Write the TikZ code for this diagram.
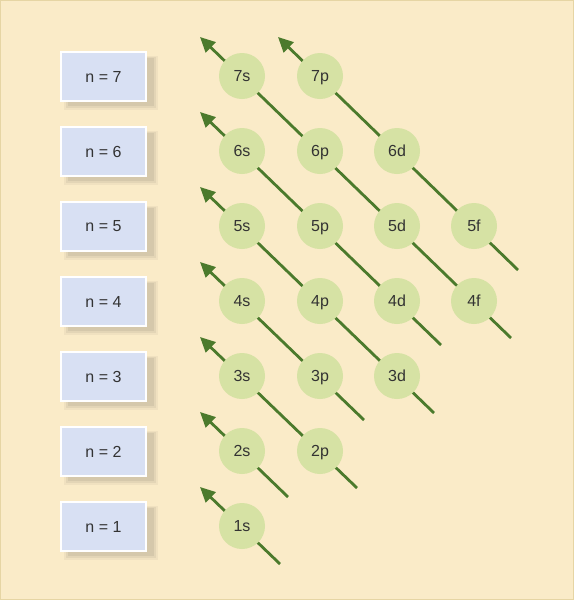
\documentclass[tikz,border=0pt]{standalone}
\usepackage{fontspec}
\setmainfont{Liberation Sans}
\usetikzlibrary{arrows.meta,calc,backgrounds}
\definecolor{bgc}{HTML}{FAEBC8}
\definecolor{bgborder}{HTML}{E6D5A4}
\definecolor{boxfill}{HTML}{D8E0F3}
\definecolor{circfill}{HTML}{D6E2A4}
\definecolor{linec}{HTML}{4B7A2C}
\definecolor{txt}{HTML}{333333}
\tikzset{
  nbox/.style={draw=white, line width=1.2pt, fill=boxfill, minimum width=85pt, minimum height=49pt, inner sep=0pt, font=\fontsize{16}{16}\selectfont, text=txt},
  orb/.style={circle, fill=circfill, minimum size=46pt, inner sep=0pt, text height=11.5pt, text depth=0pt, font=\fontsize{16}{16}\selectfont, text=txt},
  diag/.style={draw=linec, line width=2.8pt, -{Triangle[length=15pt,width=14pt]}},
}
\begin{document}
\begin{tikzpicture}[x=1pt,y=-1pt]
\begin{scope}[on background layer]
\fill[bgc] (0,0) rectangle (574,600);
\draw[bgborder, line width=1pt] (0.5,0.5) rectangle (573.5,599.5);
\end{scope}
\useasboundingbox (0,0) rectangle (574,600);
% shells
\foreach \n in {1,...,7}{
  \pgfmathsetmacro{\yy}{76.5+75*(7-\n)}
  \fill[black, opacity=0.04] (64,\yy-21) rectangle (158,\yy+33);
  \fill[black, opacity=0.05] (66,\yy-20) rectangle (156,\yy+31);
  \fill[black, opacity=0.06] (68,\yy-19) rectangle (154,\yy+29);
  \node[nbox] (n\n) at (103.5,\yy) {n = \n};
}
% orbitals
\foreach \n/\l/\x in {1/s/242, 2/s/242, 2/p/320, 3/s/242, 3/p/320, 3/d/397, 4/s/242, 4/p/320, 4/d/397, 4/f/474, 5/s/242, 5/p/320, 5/d/397, 5/f/474, 6/s/242, 6/p/320, 6/d/397, 7/s/242, 7/p/320}{
  \pgfmathsetmacro{\yy}{76+75*(7-\n)}
  \node[orb] (o\n\l) at (\x,\yy) {\n\l};
}
% diagonals
\begin{scope}[on background layer]
\foreach \low/\high/\off in {1s/1s/38, 2s/2s/46, 2p/3s/37, 3p/4s/44, 3d/5s/37, 4d/6s/44, 4f/7s/37, 5f/7p/44}{
  \coordinate (t\low) at ($(o\low)+(\off,\off)$);
  \coordinate (h\high) at ($(o\high)+(-42,-39)$);
  \draw[diag] (t\low) -- (h\high);
}
\end{scope}
\end{tikzpicture}
\end{document}
